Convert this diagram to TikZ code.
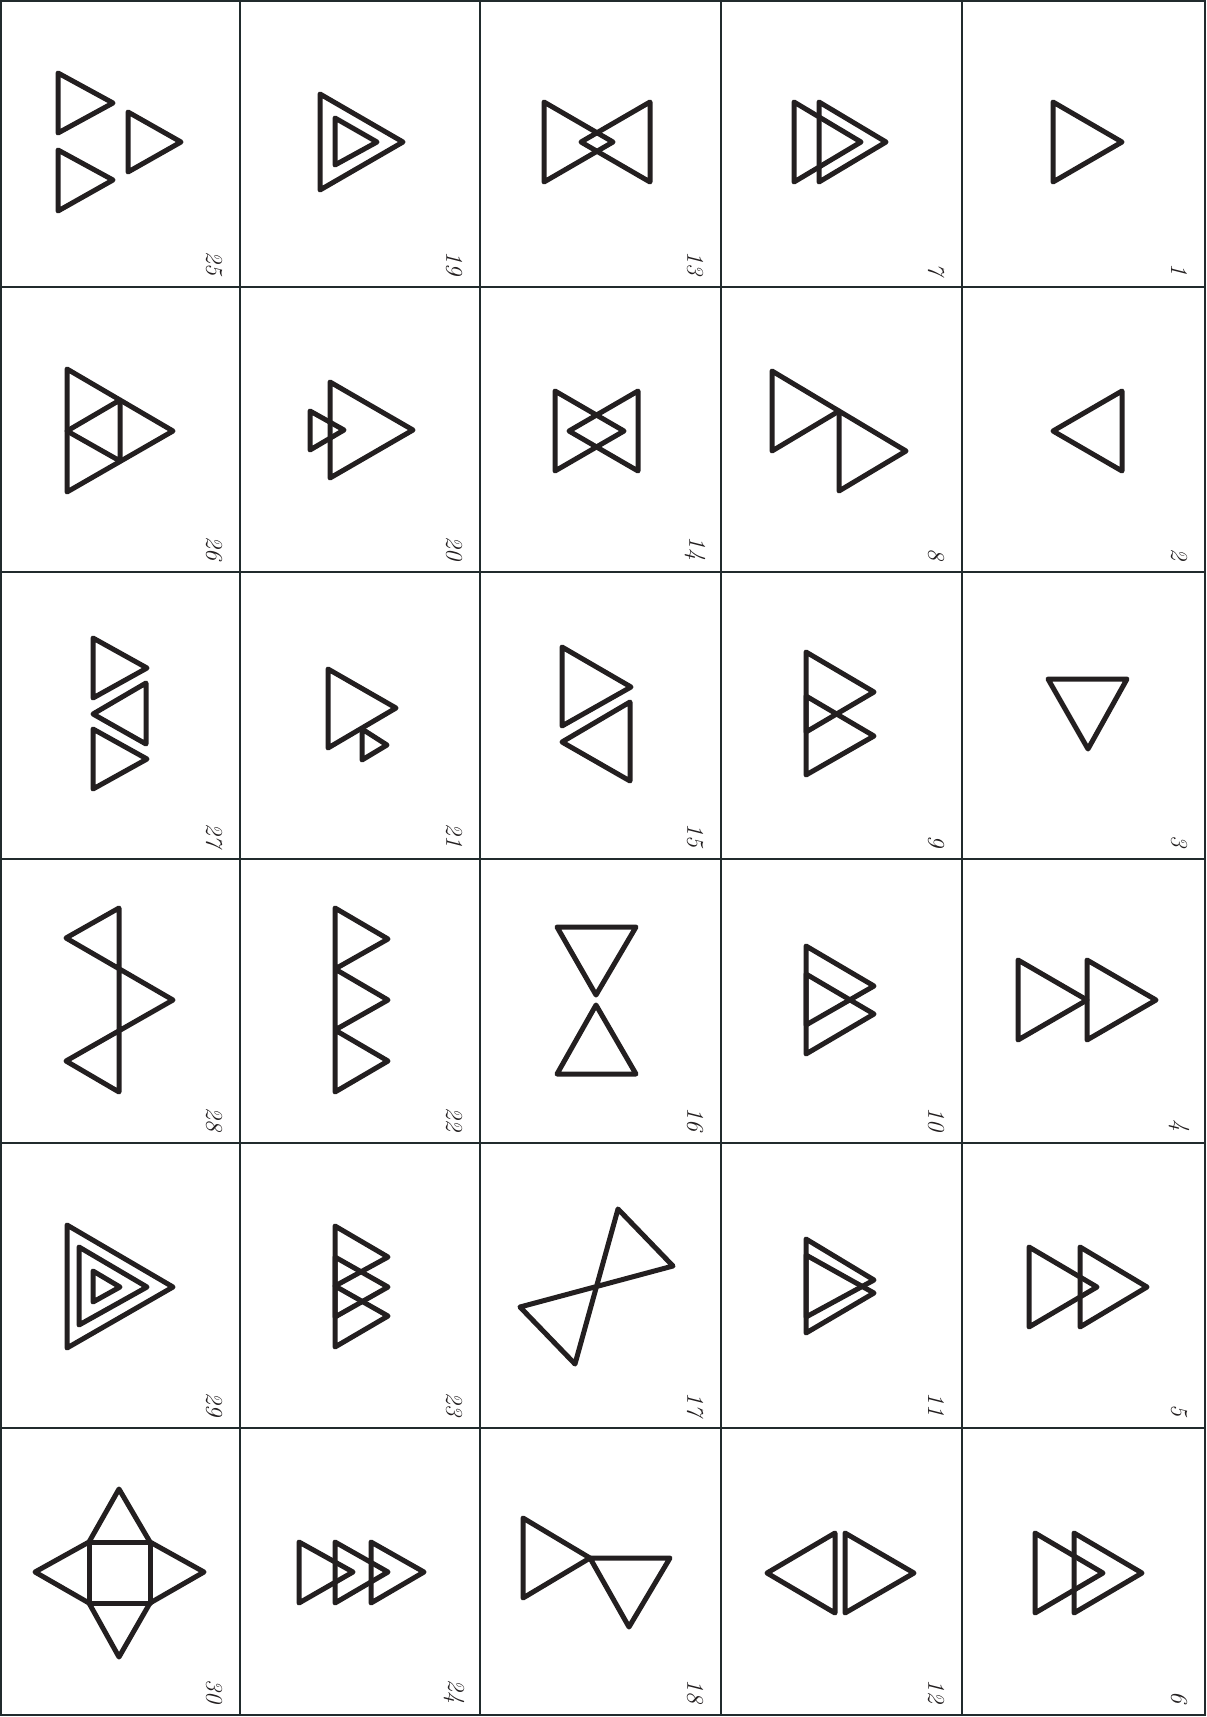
\documentclass[tikz,border=0pt]{standalone}
\usepackage{tikz}

\definecolor{inkcol}{RGB}{35,31,32}
\definecolor{gridcol}{RGB}{33,43,45}

\tikzset{
  fig/.style={draw=inkcol, line width=5pt, line join=round, line cap=round},
  cellline/.style={draw=gridcol, line width=2.8pt},
  numlabel/.style={rotate=-90, anchor=east, inner sep=0pt, text=inkcol,
    font=\fontsize{24}{28}\selectfont\itshape}
}

\begin{document}
\begin{tikzpicture}[x=1pt, y=-1pt]
      \useasboundingbox (0,0) rectangle (1207,1717);
      % grid
      \draw[cellline] (1,1) rectangle (1205,1715);
      \foreach \gx in {240,480,721,962}
        \draw[cellline] (\gx,1) -- (\gx,1715);
      \foreach \gy in {287,572,859,1143,1428}
        \draw[cellline] (1,\gy) -- (1205,\gy);
      % numbers, read down each column from the right
      \foreach \xr [count=\c] in {240,480,721,962,1205}
        \foreach \yb [count=\r] in {287,572,859,1143,1428,1715} {
          \pgfmathtruncatemacro\num{(5-\c)*6+\r}
          \node[numlabel] (n\num) at (\xr-26,\yb-11) {\num};
        }
      % column 5: 1-6
      \draw[fig] (1053,102) -- (1053,182) -- (1122,142) -- cycle;
      \draw[fig] (1122,391) -- (1122,471) -- (1053,431) -- cycle;
      \draw[fig] (1048,679) -- (1127,679) -- (1088,749) -- cycle;
      \draw[fig] (1018,960) -- (1018,1040) -- (1087,1000) -- cycle;
      \draw[fig] (1087,960) -- (1087,1040) -- (1156,1000) -- cycle;
      \draw[fig] (1029,1247) -- (1029,1327) -- (1097,1287) -- cycle;
      \draw[fig] (1080,1247) -- (1080,1327) -- (1147,1287) -- cycle;
      \draw[fig] (1035,1533) -- (1035,1613) -- (1103,1573) -- cycle;
      \draw[fig] (1074,1533) -- (1074,1613) -- (1142,1573) -- cycle;
      % column 4: 7-12
      \draw[fig] (794,102) -- (794,182) -- (861,142) -- cycle;
      \draw[fig] (819,102) -- (819,182) -- (886,142) -- cycle;
      \draw[fig] (772,371) -- (772,451) -- (839,411) -- cycle;
      \draw[fig] (839,411) -- (839,491) -- (906,451) -- cycle;
      \draw[fig] (806,652) -- (806,732) -- (874,692) -- cycle;
      \draw[fig] (806,696) -- (806,775) -- (874,736) -- cycle;
      \draw[fig] (806,946) -- (806,1025) -- (874,986) -- cycle;
      \draw[fig] (806,974) -- (806,1054) -- (874,1014) -- cycle;
      \draw[fig] (806,1239) -- (806,1317) -- (874,1280) -- cycle;
      \draw[fig] (806,1255) -- (806,1333) -- (874,1293) -- cycle;
      \draw[fig] (835,1533) -- (835,1613) -- (767,1573) -- cycle;
      \draw[fig] (845,1533) -- (845,1613) -- (914,1573) -- cycle;
      % column 3: 13-18
      \draw[fig] (544,102) -- (544,182) -- (613,142) -- cycle;
      \draw[fig] (650,102) -- (650,182) -- (581,142) -- cycle;
      \draw[fig] (555,391) -- (555,471) -- (624,431) -- cycle;
      \draw[fig] (638,391) -- (638,471) -- (569,431) -- cycle;
      \draw[fig] (562,647) -- (562,726) -- (631,687) -- cycle;
      \draw[fig] (630,702) -- (630,781) -- (562,742) -- cycle;
      \draw[fig] (557,927) -- (636,927) -- (596,995) -- cycle;
      \draw[fig] (596,1005) -- (636,1074) -- (557,1074) -- cycle;
      \draw[fig] (618,1209) -- (673,1266) -- (520,1307) -- (575,1364) -- cycle;
      \draw[fig] (523,1518) -- (523,1598) -- (590,1558) -- cycle;
      \draw[fig] (590,1558) -- (670,1558) -- (629,1627) -- cycle;
      % column 2: 19-24
      \draw[fig] (320,94) -- (320,190) -- (403,142) -- cycle;
      \draw[fig] (335,118) -- (335,165) -- (377,142) -- cycle;
      \draw[fig] (330,382) -- (330,478) -- (413,430) -- cycle;
      \draw[fig] (310,411) -- (310,450) -- (344,430) -- cycle;
      \draw[fig] (328,669) -- (328,748) -- (396,708) -- cycle;
      \draw[fig] (362,729) -- (362,760) -- (387,745) -- cycle;
      \draw[fig] (335,908) -- (388,939) -- (335,969) -- (388,1000) -- (335,1030)
                 -- (388,1061) -- (335,1092) -- cycle;
      \draw[fig] (335,1226) -- (335,1286) -- (388,1257) -- cycle;
      \draw[fig] (335,1257) -- (335,1317) -- (388,1287) -- cycle;
      \draw[fig] (335,1286) -- (335,1347) -- (388,1316) -- cycle;
      \draw[fig] (299,1542) -- (299,1603) -- (353,1572) -- cycle;
      \draw[fig] (335,1542) -- (335,1603) -- (388,1572) -- cycle;
      \draw[fig] (371,1542) -- (371,1603) -- (424,1572) -- cycle;
      % column 1: 25-30
      \draw[fig] (58,73) -- (58,133) -- (113,103) -- cycle;
      \draw[fig] (58,150) -- (58,211) -- (113,180) -- cycle;
      \draw[fig] (128,112) -- (128,172) -- (181,142) -- cycle;
      \draw[fig] (67,369) -- (67,492) -- (173,431) -- cycle;
      \draw[fig] (67,431) -- (120,400) -- (120,461) -- cycle;
      \draw[fig] (93,638) -- (93,698) -- (147,668) -- cycle;
      \draw[fig] (146,683) -- (146,744) -- (93,714) -- cycle;
      \draw[fig] (93,729) -- (93,789) -- (147,759) -- cycle;
      \draw[fig] (119,908) -- (66,938) -- (173,1000) -- (66,1061) -- (119,1092) -- cycle;
      \draw[fig] (67,1225) -- (67,1348) -- (173,1287) -- cycle;
      \draw[fig] (79,1247) -- (79,1325) -- (147,1287) -- cycle;
      \draw[fig] (93,1271) -- (93,1302) -- (120,1287) -- cycle;
      \draw[fig] (89,1542) rectangle (150,1603);
      \draw[fig] (89,1542) -- (119,1489) -- (150,1542);
      \draw[fig] (150,1542) -- (204,1572) -- (150,1603);
      \draw[fig] (150,1603) -- (119,1657) -- (89,1603);
      \draw[fig] (89,1603) -- (35,1572) -- (89,1542);
    \end{tikzpicture}
\end{document}
